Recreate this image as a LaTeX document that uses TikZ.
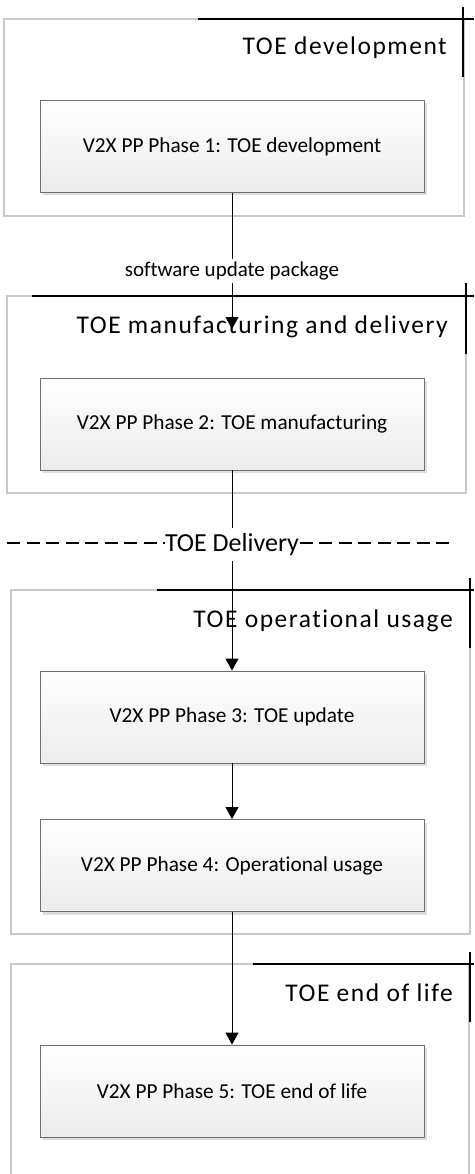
\documentclass[tikz,border=0pt]{standalone}
\usepackage{fontspec}
\setmainfont{Carlito}[Ligatures={NoCommon}]
\newfontfamily\titlefont{Carlito}[LetterSpace=6,Ligatures={NoCommon}]
\usetikzlibrary{arrows.meta,shadows}
\definecolor{framegray}{HTML}{C8C8C8}
\definecolor{boxborder}{HTML}{707070}
\definecolor{boxbottom}{HTML}{ECECEC}
\definecolor{shadowgray}{HTML}{DEDEDE}
\begin{document}
\begin{tikzpicture}[x=1pt,y=-1pt,
  frame/.style={draw=framegray, line width=1.5pt},
  bar/.style={draw=black, line width=1.5pt},
  phase/.style={draw=boxborder, line width=0.9pt, top color=white, bottom color=boxbottom,
    minimum width=384pt, minimum height=92pt, inner sep=0pt,
    font=\fontsize{21.3}{25}\selectfont,
    drop shadow={shadow xshift=3pt, shadow yshift=-3pt, fill=shadowgray, opacity=1}},
  title/.style={anchor=base east, inner sep=0pt, font=\titlefont\fontsize{25.5}{30}\selectfont},
  flow/.style={draw=black, line width=0.9pt, -{Triangle[width=13pt,length=12pt]}},
  flowlabel/.style={fill=white, inner xsep=2pt, inner ysep=3pt, font=\fontsize{21}{25}\selectfont},
  delivery/.style={fill=white, inner xsep=0pt, inner ysep=5pt, font=\fontsize{26}{30}\selectfont},
  dashline/.style={draw=black, line width=1.5pt, dash pattern=on 13pt off 6.5pt},
]
\useasboundingbox (0,0) rectangle (474,1174);
\fill[white] (0,0) rectangle (474,1174);

% frames
\draw[frame] (4,19) rectangle (464,216);
\draw[frame] (7,296) rectangle (466,493);
\draw[frame] (11,590) rectangle (470,934);
\draw[frame] (11,964) rectangle (469,1200);

% black bars
\draw[bar] (198,19) -- (474,19);
\draw[bar] (463,7) -- (463,77);
\draw[bar] (32,296) -- (474,296);
\draw[bar] (466,283) -- (466,354);
\draw[bar] (157,590) -- (474,590);
\draw[bar] (470,578) -- (470,648);
\draw[bar] (253,964) -- (474,964);
\draw[bar] (470,952) -- (470,1022);

% titles
\node[title] (t1) at (447,55) {TOE development};
\node[title] (t2) at (448,333) {TOE manufacturing and delivery};
\node[title] (t3) at (453,627) {TOE operational usage};
\node[title] (t4) at (453,1001) {TOE end of life};

% phase boxes
\node[phase] (p1) at (232,146.5) {V2X PP Phase 1: TOE development};
\node[phase] (p2) at (232,424) {V2X PP Phase 2: TOE manufacturing};
\node[phase] (p3) at (232,717) {V2X PP Phase 3: TOE update};
\node[phase] (p4) at (232,865.5) {V2X PP Phase 4: Operational usage};
\node[phase] (p5) at (232,1091) {V2X PP Phase 5: TOE end of life};

% delivery line
\coordinate (dl) at (7,543);
\coordinate (dr) at (455,543);
\draw[dashline] (dl) -- (dr);

% connectors
\coordinate (c1) at (232,329);
\draw[flow] (p1.south) -- node[flowlabel, pos=0.574] (l1) {software update package} (c1);
\draw[flow] (p2.south) -- node[delivery, pos=0.37] (l2) {TOE Delivery} (p3.north);
\draw[flow] (p3.south) -- (p4.north);
\draw[flow] (p4.south) -- (p5.north);
\end{tikzpicture}
\end{document}
